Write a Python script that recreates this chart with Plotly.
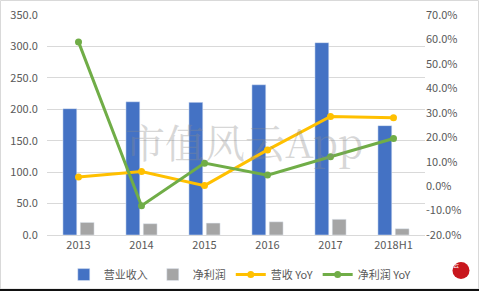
import plotly.graph_objects as go

categories = ["2013", "2014", "2015", "2016", "2017", "2018H1"]
revenue = [201, 212, 211, 239, 306, 174]
net_profit = [20, 18, 19, 21, 25, 10]
revenue_yoy = [3.7, 6.0, 0.2, 14.8, 28.5, 28.0]
profit_yoy = [59.0, -8.0, 9.4, 4.5, 12.0, 19.5]

left_ticks = [0, 50, 100, 150, 200, 250, 300, 350]
right_ticks = [-20, -10, 0, 10, 20, 30, 40, 50, 60, 70]

FONT = "Noto Sans CJK SC"
TC = "#595959"

fig = go.Figure()
fig.add_trace(go.Bar(x=categories, y=revenue, name="营业收入", marker_color="#4472C4"))
fig.add_trace(go.Bar(x=categories, y=net_profit, name="净利润", marker_color="#A5A5A5"))
fig.add_trace(go.Scatter(x=categories, y=revenue_yoy, name="营收 YoY", yaxis="y2",
                         mode="lines+markers", line=dict(color="#FFC000", width=3),
                         marker=dict(size=7, color="#FFC000")))
fig.add_trace(go.Scatter(x=categories, y=profit_yoy, name="净利润 YoY", yaxis="y2",
                         mode="lines+markers", line=dict(color="#70AD47", width=3),
                         marker=dict(size=7, color="#70AD47")))

fig.update_layout(
    width=479, height=292,
    margin=dict(l=47, r=54, t=15, b=57, autoexpand=False),
    paper_bgcolor="white", plot_bgcolor="white",
    font=dict(family=FONT, size=11, color=TC),
    barmode="group", bargap=0.45, bargroupgap=0.2,
    showlegend=True,
    legend=dict(orientation="h", x=0.51, xanchor="center", y=-0.18, yanchor="middle",
                font=dict(size=11, color=TC), itemwidth=30, tracegroupgap=0,
                bgcolor="rgba(0,0,0,0)"),
    xaxis=dict(showgrid=False, showline=True, linecolor="#D9D9D9", ticks="",
               tickfont=dict(size=11, color=TC)),
    yaxis=dict(range=[0, 350], tickvals=left_ticks,
               ticktext=[f"{v:.1f}" for v in left_ticks],
               ticks="outside", ticklen=6, tickcolor="rgba(0,0,0,0)",
               showgrid=True, gridcolor="#D9D9D9", gridwidth=1, zeroline=False,
               showline=False, tickfont=dict(size=11, color=TC)),
    yaxis2=dict(range=[-20, 70], tickvals=right_ticks,
                ticktext=[f"{v:.1f}%" for v in right_ticks],
                overlaying="y", side="right", showgrid=False, zeroline=False,
                showline=False, ticks="", tickfont=dict(size=11, color=TC)),
)

# watermark
fig.add_annotation(text="市值风云App", xref="paper", yref="paper", x=0.52, y=0.43,
                   showarrow=False, font=dict(size=40, color="rgba(140,140,140,0.35)",
                                              family="Noto Serif CJK SC, " + FONT))

# border
fig.add_shape(type="rect", xref="paper", yref="paper",
              x0=-46.5/378, x1=(478.5-47)/378, y0=-54/220, y1=1+14.5/220,
              line=dict(color="#D9D9D9", width=1))
fig.add_shape(type="line", xref="paper", yref="paper",
              x0=-47/378, x1=(479-47)/378, y0=-55/220, y1=-55/220,
              line=dict(color="#111111", width=2))

# logo
cx, cy, r = (461-47)/378, (235-270.5)/220, 8.5
fig.add_shape(type="circle", xref="paper", yref="paper",
              x0=cx - r/378, x1=cx + r/378, y0=cy - r/220, y1=cy + r/220,
              fillcolor="#C8161D", line=dict(width=0))
fig.add_annotation(text="风<br>云", xref="paper", yref="paper", x=cx, y=cy,
                   showarrow=False, font=dict(size=6, color="white"))

fig.write_html("out.html")
